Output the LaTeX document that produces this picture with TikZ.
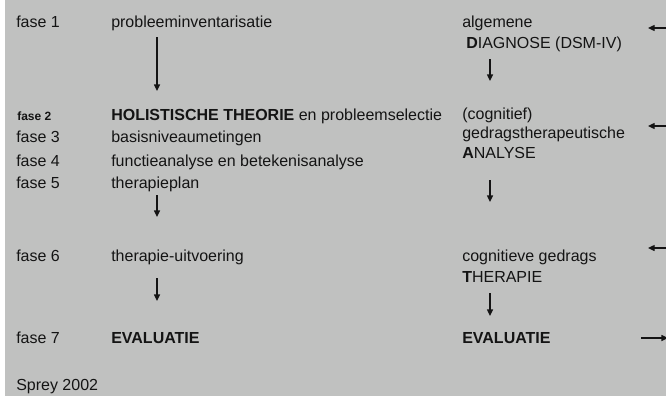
\documentclass[tikz,border=0pt]{standalone}
\usepackage{fontspec}
\setmainfont{Liberation Sans}
\usetikzlibrary{arrows.meta}
\definecolor{bgc}{RGB}{192,193,192}
\definecolor{txt}{RGB}{20,20,20}
\tikzset{
  lbl/.style={inner sep=0pt, anchor=base west, text=txt, font=\fontsize{12}{14}\selectfont},
  smallbold/.style={lbl, font=\fontsize{9}{11}\selectfont\bfseries},
  arr/.style={draw=txt, line width=1pt, -{Triangle[length=5pt,width=4.5pt]}}
}
\begin{document}
\begin{tikzpicture}[x=0.75pt,y=-0.75pt]
\useasboundingbox (0,0) rectangle (666,396);
\fill[bgc] (5,0) rectangle (666,396);
% left column
\node[lbl] (f1) at (16,27) {fase 1};
\node[lbl] (t1) at (111,27) {probleeminventarisatie};
\node[smallbold] (f2) at (17,120) {fase 2};
\node[lbl] (t2) at (111,120) {\textbf{HOLISTISCHE THEORIE} en probleemselectie};
\node[lbl] (f3) at (16,142) {fase 3};
\node[lbl] (t3) at (111,142) {basisniveaumetingen};
\node[lbl] (f4) at (16,166) {fase 4};
\node[lbl] (t4) at (111,166) {functieanalyse en betekenisanalyse};
\node[lbl] (f5) at (16,188) {fase 5};
\node[lbl] (t5) at (111,188) {therapieplan};
\node[lbl] (f6) at (16,261) {fase 6};
\node[lbl] (t6) at (111,261) {therapie-uitvoering};
\node[lbl] (f7) at (16,343) {fase 7};
\node[lbl] (t7) at (111,343) {\textbf{EVALUATIE}};
\node[lbl] (src) at (16,390) {Sprey 2002};
% right column
\node[lbl] (r1a) at (462,27) {algemene};
\node[lbl] (r1b) at (466,48) {\textbf{D}IAGNOSE (DSM-IV)};
\node[lbl] (r2a) at (462,119) {(cognitief)};
\node[lbl] (r2b) at (462,138) {gedragstherapeutische};
\node[lbl] (r2c) at (462,158) {\textbf{A}NALYSE};
\node[lbl] (r3a) at (462,261) {cognitieve gedrags};
\node[lbl] (r3b) at (462,282) {\textbf{T}HERAPIE};
\node[lbl] (r4) at (462,343) {\textbf{EVALUATIE}};
% arrow coordinates
\coordinate (a1s) at (157,37);  \coordinate (a1e) at (157,91);
\coordinate (a2s) at (157,195); \coordinate (a2e) at (157,217);
\coordinate (a3s) at (157,278); \coordinate (a3e) at (157,301);
\coordinate (b1s) at (490,59);  \coordinate (b1e) at (490,81);
\coordinate (b2s) at (490,180); \coordinate (b2e) at (490,202);
\coordinate (b3s) at (490,293); \coordinate (b3e) at (490,316);
\coordinate (c1s) at (667,28);  \coordinate (c1e) at (648,28);
\coordinate (c2s) at (667,126); \coordinate (c2e) at (648,126);
\coordinate (c3s) at (667,248); \coordinate (c3e) at (648,248);
\coordinate (c4s) at (641,338); \coordinate (c4e) at (668,338);
\foreach \p in {a1,a2,a3,b1,b2,b3,c1,c2,c3,c4}{
  \draw[arr] (\p s) -- (\p e);
}
\end{tikzpicture}
\end{document}
